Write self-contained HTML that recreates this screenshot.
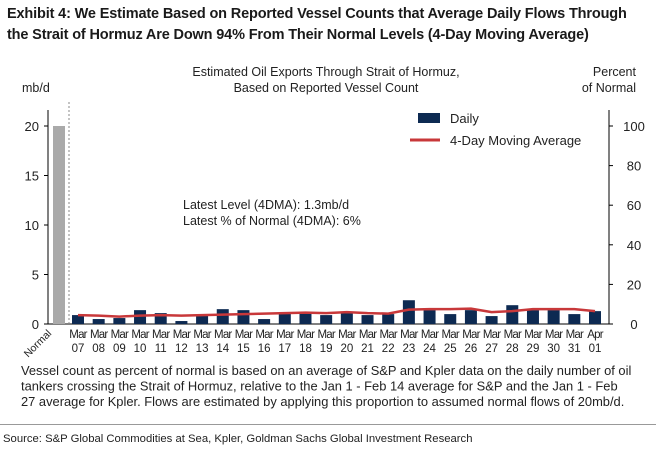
<!DOCTYPE html>
<html><head><meta charset="utf-8"><style>
body{margin:0;background:#fff;width:656px;height:450px;overflow:hidden;font-family:"Liberation Sans",sans-serif;}
.t{position:absolute;left:7px;top:4px;font-weight:bold;font-size:14.5px;line-height:21px;color:#1a1a1a;letter-spacing:-0.15px;}
</style></head><body>
<div class="t">Exhibit 4: We Estimate Based on Reported Vessel Counts that Average Daily Flows Through<br>the Strait of Hormuz Are Down 94% From Their Normal Levels (4-Day Moving Average)</div>
<svg id="c" width="656" height="450" style="position:absolute;left:0;top:0" font-family="Liberation Sans, sans-serif"></svg>
<script>
const categories=["07","08","09","10","11","12","13","14","15","16","17","18","19","20","21","22","23","24","25","26","27","28","29","30","31","01"];
const months=["Mar","Mar","Mar","Mar","Mar","Mar","Mar","Mar","Mar","Mar","Mar","Mar","Mar","Mar","Mar","Mar","Mar","Mar","Mar","Mar","Mar","Mar","Mar","Mar","Mar","Apr"];
const daily=[0.9,0.5,0.6,1.4,1.1,0.3,0.9,1.5,1.4,0.5,1.1,1.1,0.9,1.1,0.9,1.0,2.4,1.4,1.0,1.4,0.8,1.9,1.4,1.4,1.0,1.3];
const ma4=[0.9,0.85,0.75,0.85,0.9,0.85,0.9,0.95,1.0,1.05,1.1,1.15,1.1,1.2,1.1,1.05,1.45,1.5,1.5,1.55,1.2,1.3,1.5,1.5,1.5,1.3];
const normal=20;
const leftTicks=[0,5,10,15,20];
const rightTicks=[0,20,40,60,80,100];
const svg=document.getElementById('c');
const NS='http://www.w3.org/2000/svg';
const y=v=>324-v*9.9;
const yr=p=>324-p*1.98;
const x=i=>78+i*20.68;
function mk(t,a,txt){const e=document.createElementNS(NS,t);for(const k in a)e.setAttribute(k,a[k]);if(txt!=null)e.textContent=txt;svg.appendChild(e);return e;}
let e;
e=mk('text',{x:326,y:76,'text-anchor':'middle','font-size':12.5,fill:'#222'},'Estimated Oil Exports Through Strait of Hormuz,');

e=mk('text',{x:326,y:92,'text-anchor':'middle','font-size':12.5,fill:'#222'},'Based on Reported Vessel Count');

e=mk('text',{x:22,y:92,'font-size':12.5,fill:'#222'},'mb/d');

e=mk('text',{x:636,y:76,'text-anchor':'end','font-size':12.5,fill:'#222'},'Percent');

e=mk('text',{x:636,y:92,'text-anchor':'end','font-size':12.5,fill:'#222'},'of Normal');

e=mk('line',{x1:48,y1:110,x2:48,y2:324,stroke:'#000','stroke-width':1});

e=mk('line',{x1:609,y1:110,x2:609,y2:324,stroke:'#000','stroke-width':1});

e=mk('line',{x1:48,y1:324,x2:609,y2:324,stroke:'#000','stroke-width':1});

e=mk('line',{x1:69,y1:102,x2:69,y2:324,stroke:'#888','stroke-width':1,'stroke-dasharray':'2,2'});

leftTicks.forEach(v=>{
 e=mk('line',{x1:44,y1:y(v),x2:48,y2:y(v),stroke:'#000'});
 
 e=mk('text',{x:39,y:y(v)+5,'text-anchor':'end','font-size':13,fill:'#222'},v);
 
});
rightTicks.forEach(v=>{
 e=mk('line',{x1:609,y1:yr(v),x2:613,y2:yr(v),stroke:'#000'});
 
 e=mk('text',{x:634,y:yr(v)+5,'text-anchor':'middle','font-size':13,fill:'#222'},v);
 
});
e=mk('rect',{x:53,y:y(normal),width:12,height:324-y(normal),fill:'#aaaaaa'});

e=mk('text',{x:0,y:0,'font-size':10.5,fill:'#222','text-anchor':'end',transform:'translate(52,334) rotate(-45)'},'Normal');

daily.forEach((v,i)=>{
 e=mk('rect',{x:x(i)-6,y:y(v),width:12,height:324-y(v),fill:'#0d2a52'});
 
 e=mk('text',{x:x(i),y:338,'text-anchor':'middle','font-size':11.5,fill:'#222','letter-spacing':'-0.8'},months[i]);
 
 e=mk('text',{x:x(i),y:352,'text-anchor':'middle','font-size':11.5,fill:'#222'},categories[i]);
 
});
e=mk('polyline',{points:ma4.map((v,i)=>x(i)+','+y(v)).join(' '),fill:'none',stroke:'#c8383a','stroke-width':2.5,'stroke-linejoin':'round'});

e=mk('rect',{x:418,y:113,width:22,height:10,fill:'#0d2a52'});

e=mk('text',{x:450,y:123,'font-size':13,fill:'#222'},'Daily');

e=mk('line',{x1:410,y1:140,x2:440,y2:140,stroke:'#c8383a','stroke-width':3});

e=mk('text',{x:450,y:145,'font-size':13,fill:'#222'},'4-Day Moving Average');

e=mk('text',{x:183,y:209,'font-size':12.5,fill:'#222'},'Latest Level (4DMA): 1.3mb/d');

e=mk('text',{x:183,y:225,'font-size':12.5,fill:'#222'},'Latest % of Normal (4DMA): 6%');

['Vessel count as percent of normal is based on an average of S&P and Kpler data on the daily number of oil','tankers crossing the Strait of Hormuz, relative to the Jan 1 - Feb 14 average for S&P and the Jan 1 - Feb','27 average for Kpler. Flows are estimated by applying this proportion to assumed normal flows of 20mb/d.'].forEach((s,i)=>{
 e=mk('text',{x:21,y:375+i*15.5,'font-size':12.9,fill:'#222'},s);
 
});
e=mk('line',{x1:0,y1:424.5,x2:656,y2:424.5,stroke:'#999','stroke-width':1});

e=mk('text',{x:3,y:442,'font-size':11.3,fill:'#222'},'Source: S&P Global Commodities at Sea, Kpler, Goldman Sachs Global Investment Research');

</script>
</body></html>
